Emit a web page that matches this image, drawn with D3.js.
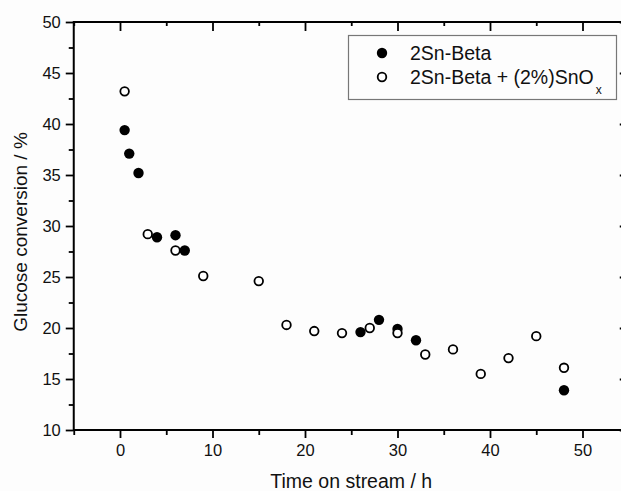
<!DOCTYPE html>
<html>
<head>
<meta charset="utf-8">
<script src="https://cdn.jsdelivr.net/npm/d3@7"></script>
<style>
  body { margin: 0; background: #fdfdfd; }
  svg { display: block; font-family: "Liberation Sans", Arial, sans-serif; }
</style>
</head>
<body>
<div id="chart"></div>
<script>
// 2Sn-Beta (filled)
var timeFilled = [0.5, 1, 2, 4, 6, 7, 26, 28, 30, 32, 48];
var convFilled = [39.4, 37.1, 35.2, 28.9, 29.1, 27.6, 19.6, 20.8, 19.9, 18.8, 13.9];
// 2Sn-Beta + (2%)SnOx (open)
var timeOpen = [0.5, 3, 6, 9, 15, 18, 21, 24, 27, 30, 33, 36, 39, 42, 45, 48];
var convOpen = [43.2, 29.2, 27.6, 25.1, 24.6, 20.3, 19.7, 19.5, 20.0, 19.5, 17.4, 17.9, 15.5, 17.05, 19.2, 16.1];

var xTicks = [0, 10, 20, 30, 40, 50];
var xMinor = [-5, 5, 15, 25, 35, 45, 55];
var yTicks = [10, 15, 20, 25, 30, 35, 40, 45, 50];
var yMinor = [12.5, 17.5, 22.5, 27.5, 32.5, 37.5, 42.5, 47.5];

var W = 621, H = 491;
var pLeft = 73.75, pRight = 628.75, pTop = 22, pBottom = 430;

var svg = d3.select('#chart').append('svg')
    .attr('width', W)
    .attr('height', H);

var x = d3.scaleLinear().domain([-5, 55]).range([pLeft, pRight]);
var y = d3.scaleLinear().domain([10, 50]).range([pBottom, pTop]);

var drawAxis = function (axis, tx, ty) {
    var g = svg.append('g')
        .attr('transform', 'translate(' + tx + ',' + ty + ')')
        .call(axis)
        .attr('font-family', null);
    g.select('.domain').remove();
    g.selectAll('line').attr('stroke', '#000').attr('stroke-width', 1.8);
    g.selectAll('text').attr('fill', '#111').style('font-size', '16.5px');
    return g;
};

// bottom
drawAxis(d3.axisBottom(x).tickValues(xTicks).tickSize(8).tickPadding(6).tickFormat(d3.format('d')), 0, pBottom);
drawAxis(d3.axisBottom(x).tickValues(xMinor).tickSize(5).tickFormat(''), 0, pBottom);
// top, ticks pointing in
drawAxis(d3.axisTop(x).tickValues(xTicks).tickSize(-9).tickFormat(''), 0, pTop);
drawAxis(d3.axisTop(x).tickValues(xMinor).tickSize(-4).tickFormat(''), 0, pTop);
// left
drawAxis(d3.axisLeft(y).tickValues(yTicks).tickSize(8).tickPadding(5).tickFormat(d3.format('d')), pLeft, 0);
drawAxis(d3.axisLeft(y).tickValues(yMinor).tickSize(5).tickFormat(''), pLeft, 0);
// right, ticks pointing in
drawAxis(d3.axisRight(y).tickValues(yTicks).tickSize(-9).tickFormat(''), pRight, 0);
drawAxis(d3.axisRight(y).tickValues(yMinor).tickSize(-4).tickFormat(''), pRight, 0);

// frame
svg.append('rect')
    .attr('x', pLeft).attr('y', pTop)
    .attr('width', pRight - pLeft).attr('height', pBottom - pTop)
    .attr('fill', 'none')
    .attr('stroke', '#000')
    .attr('stroke-width', 2);

// points
var filled = timeFilled.map(function (t, i) { return { t: t, v: convFilled[i] }; });
var open = timeOpen.map(function (t, i) { return { t: t, v: convOpen[i] }; });

svg.append('g').selectAll('circle').data(filled)
    .enter().append('circle')
    .attr('cx', function (d) { return x(d.t); })
    .attr('cy', function (d) { return y(d.v); })
    .attr('r', 5.2)
    .attr('fill', '#000');

svg.append('g').selectAll('circle').data(open)
    .enter().append('circle')
    .attr('cx', function (d) { return x(d.t); })
    .attr('cy', function (d) { return y(d.v); })
    .attr('r', 4.3)
    .attr('fill', '#fff')
    .attr('stroke', '#000')
    .attr('stroke-width', 1.8);

// axis titles
svg.append('text')
    .attr('x', (pLeft + pRight) / 2)
    .attr('y', 488)
    .attr('text-anchor', 'middle')
    .style('font-size', '19.5px')
    .attr('fill', '#111')
    .text('Time on stream / h');

svg.append('text')
    .attr('transform', 'translate(27,232) rotate(-90)')
    .attr('text-anchor', 'middle')
    .style('font-size', '19px')
    .attr('fill', '#111')
    .text('Glucose conversion / %');

// legend
var legend = svg.append('g');
legend.append('rect')
    .attr('x', 348.5).attr('y', 35.5)
    .attr('width', 268).attr('height', 64)
    .attr('fill', '#fdfdfd')
    .attr('stroke', '#777')
    .attr('stroke-width', 1.2);
legend.append('circle')
    .attr('cx', 382).attr('cy', 53).attr('r', 5.2).attr('fill', '#000');
legend.append('circle')
    .attr('cx', 382).attr('cy', 77).attr('r', 4.3)
    .attr('fill', '#fff').attr('stroke', '#000').attr('stroke-width', 1.8);
legend.append('text')
    .attr('x', 410).attr('y', 60)
    .style('font-size', '19.5px').attr('fill', '#111')
    .text('2Sn-Beta');
var t2 = legend.append('text')
    .attr('x', 410).attr('y', 84)
    .style('font-size', '19.5px').attr('fill', '#111');
t2.append('tspan').text('2Sn-Beta + (2%)SnO');
t2.append('tspan').attr('dx', 2).attr('dy', 10).style('font-size', '12px').text('x');
</script>
</body>
</html>
